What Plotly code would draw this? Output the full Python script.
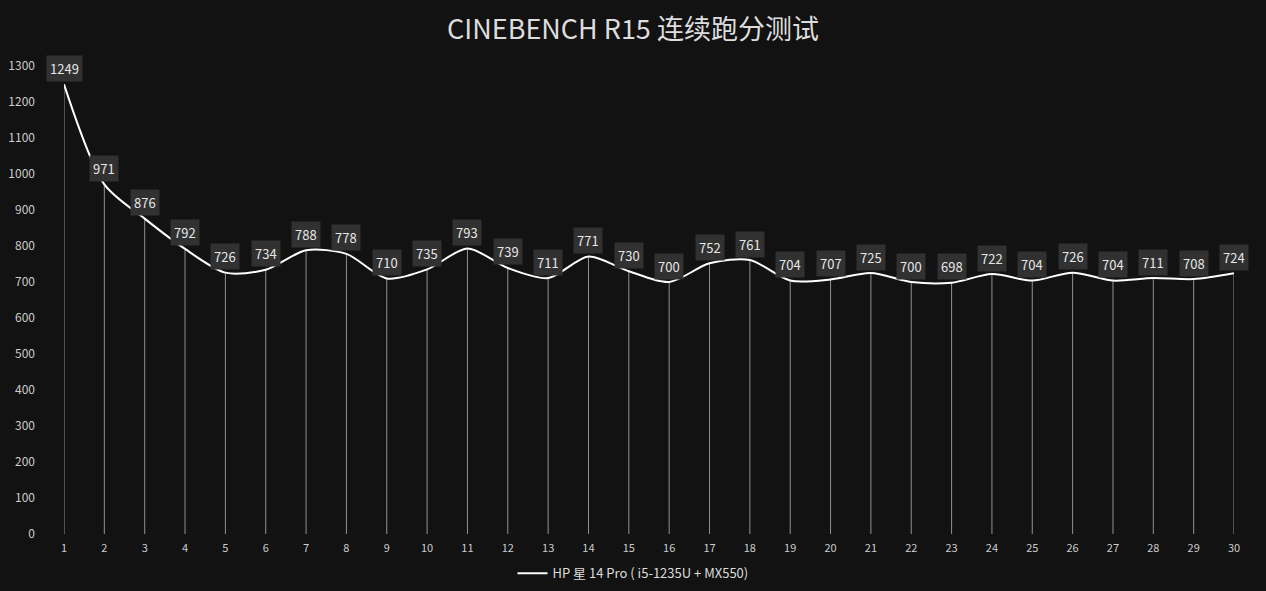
import plotly.graph_objects as go

runs = list(range(1, 31))
scores = [1249, 971, 876, 792, 726, 734, 788, 778, 710, 735, 793, 739, 711, 771, 730,
          700, 752, 761, 704, 707, 725, 700, 698, 722, 704, 726, 704, 711, 708, 724]
y_ticks = list(range(0, 1301, 100))
title_text = "CINEBENCH R15 连续跑分测试"
series_name = "HP 星 14 Pro ( i5-1235U + MX550)"

FONT = "Noto Sans CJK SC, Noto Sans, sans-serif"

fig = go.Figure()
fig.add_trace(go.Scatter(
    x=runs, y=scores, mode="lines", name=series_name,
    line=dict(color="#ffffff", width=2, shape="spline", smoothing=0.8),
    error_y=dict(type="data", symmetric=False, array=[0] * len(scores),
                 arrayminus=scores, width=0, thickness=1, color="rgba(200,200,200,0.7)"),
    hoverinfo="x+y",
))

for xv, yv in zip(runs, scores):
    fig.add_annotation(x=xv, y=yv, text=str(yv), showarrow=False, yshift=16,
                       bgcolor="#313131", font=dict(color="#e6e6e6", size=13, family=FONT),
                       borderpad=3)

fig.update_layout(
    width=1266, height=591,
    paper_bgcolor="#121212", plot_bgcolor="#121212",
    margin=dict(l=64, r=32, t=66, b=57, autoexpand=False),
    title=dict(text=title_text, x=0.5, xanchor="center", y=0.95, yanchor="middle",
               font=dict(size=27, color="#dddddd", family=FONT)),
    font=dict(family=FONT, color="#cccccc"),
    showlegend=True,
    legend=dict(orientation="h", xref="container", x=0.5, xanchor="center",
                yref="container", y=0.03, yanchor="middle",
                font=dict(size=13, color="#dddddd", family=FONT), bgcolor="rgba(0,0,0,0)",
                itemwidth=30),
    xaxis=dict(range=[1, 30], tickmode="array", tickvals=runs, ticktext=[str(r) for r in runs],
               showgrid=False, zeroline=False, showline=False, ticks="", automargin=False,
               ticklabelstandoff=6,
               tickfont=dict(size=11, color="#cccccc")),
    yaxis=dict(range=[0, 1300], tickmode="array", tickvals=y_ticks,
               showgrid=False, zeroline=False, showline=False, ticks="", automargin=False,
               ticklabelstandoff=28,
               tickfont=dict(size=12, color="#cccccc")),
)

fig.write_html("out.html", config={"displayModeBar": False},
               post_script="document.body.style.margin='0';document.body.style.background='#121212';")
